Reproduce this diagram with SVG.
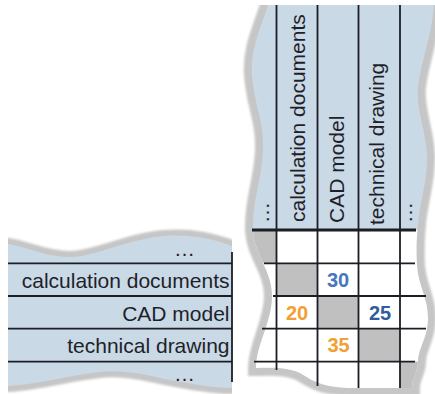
<svg xmlns="http://www.w3.org/2000/svg" width="435" height="394" viewBox="0 0 435 394">
  <defs>
    <style>
      .lbl { font-family: "Liberation Sans", Arial, sans-serif; font-size: 21px; fill: #1f1f2a; }
      .num { font-family: "Liberation Sans", Arial, sans-serif; font-size: 20px; font-weight: bold; text-anchor: middle; }
      .blue { fill: #4676bd; }
      .dblue { fill: #2f5d9c; }
      .orange { fill: #f2a034; }
      .ln { stroke: #1d1d25; stroke-width: 1.8; fill: none; }
      .thick { stroke: #1d1d25; stroke-width: 3; fill: none; }
      .hdr { fill: #c9d9e6; }
      .cellgray { fill: #c0c0c0; }
      .shadow { fill: none; stroke: #c6c6c6; filter: url(#soft); }
    </style>
    <filter id="soft" x="-10%" y="-10%" width="120%" height="120%">
      <feGaussianBlur stdDeviation="1"/>
    </filter>
    <!-- torn outline of the column header + matrix body -->
    <path id="bodyShape" d="M 268,5 C 260,30 250,50 252,75 C 254,105 264,120 263,150 C 262,180 252,200 253,230 C 254,255 272,270 272,296 C 272,322 256,345 256,368 C 270,368 290,366 305,376 C 320,386 335,388 355,388 L 412,388 C 412,378 418,372 418,362 C 418,348 428,338 428,318 C 428,298 418,285 417,265 C 416,245 417,235 418,225 C 419,205 428,180 427,155 C 426,130 416,110 418,88 C 420,65 432,35 434,5 Z"/>
    <!-- torn outline of the row header block -->
    <path id="rowShape" d="M 8,244 C 25,246 45,257 70,257 C 95,257 130,238 165,236 C 195,234 215,240 232,246 L 232,388 C 215,388 190,384 160,378 C 140,373 115,370 100,372 C 70,375 40,384 8,386 Z"/>
    <clipPath id="bodyClip"><use href="#bodyShape"/></clipPath>
    <clipPath id="rowBand"><rect x="8" y="0" width="224" height="394"/></clipPath>
  </defs>

  <rect width="435" height="394" fill="#ffffff"/>

  <!-- row header block -->
  <g id="row-header">
    <g clip-path="url(#rowBand)">
      <use href="#rowShape" class="shadow" stroke-width="12"/>
    </g>
    <use href="#rowShape" class="hdr"/>
    <line class="ln" x1="8" y1="263.3" x2="232" y2="263.3"/>
    <line class="ln" x1="8" y1="296" x2="232" y2="296"/>
    <line class="ln" x1="8" y1="328.7" x2="232" y2="328.7"/>
    <line class="ln" x1="8" y1="361.7" x2="232" y2="361.7"/>
    <line class="ln" x1="232" y1="252" x2="232" y2="382" stroke-width="2"/>
    <text class="lbl" x="174" y="256" font-size="22">…</text>
    <text class="lbl" x="229.5" y="287.5" text-anchor="end">calculation documents</text>
    <text class="lbl" x="229.5" y="320.5" text-anchor="end">CAD model</text>
    <text class="lbl" x="229.5" y="353" text-anchor="end">technical drawing</text>
    <text class="lbl" x="174" y="381" font-size="22">…</text>
  </g>

  <!-- column header and matrix body -->
  <g id="matrix-body">
    <use href="#bodyShape" class="shadow" stroke-width="16"/>
    <rect x="0" y="0" width="435" height="5" fill="#ffffff"/>
    <g clip-path="url(#bodyClip)">
      <rect x="240" y="0" width="200" height="230" class="hdr"/>
      <rect x="240" y="230" width="200" height="170" fill="#ffffff"/>
      <rect class="cellgray" x="240" y="230" width="36.5" height="33.3"/>
      <rect class="cellgray" x="276.5" y="263.3" width="41" height="32.7"/>
      <rect class="cellgray" x="317.5" y="296" width="41" height="32.7"/>
      <rect class="cellgray" x="358.5" y="328.7" width="41.5" height="33"/>
      <rect class="cellgray" x="400" y="361.7" width="35" height="40"/>
    </g>
  </g>

  <g id="grid-lines">
    <line class="ln" x1="276.5" y1="5" x2="276.5" y2="370"/>
    <line class="ln" x1="317.5" y1="5" x2="317.5" y2="386"/>
    <line class="ln" x1="358.5" y1="5" x2="358.5" y2="388"/>
    <line class="ln" x1="400" y1="5" x2="400" y2="388"/>
    <line class="thick" x1="252" y1="230" x2="416" y2="230"/>
    <line class="ln" x1="264" y1="263.3" x2="415" y2="263.3"/>
    <line class="ln" x1="273" y1="296" x2="426" y2="296"/>
    <line class="ln" x1="262" y1="328.7" x2="426" y2="328.7"/>
    <line class="ln" x1="254" y1="361.7" x2="415" y2="361.7"/>
  </g>

  <g id="column-labels">
    <text class="lbl" font-size="22" transform="translate(269,223) rotate(-90)">…</text>
    <text class="lbl" transform="translate(305,222) rotate(-90)">calculation documents</text>
    <text class="lbl" transform="translate(344,223) rotate(-90)">CAD model</text>
    <text class="lbl" transform="translate(383.5,225) rotate(-90)">technical drawing</text>
    <text class="lbl" font-size="22" transform="translate(411.5,223) rotate(-90)">…</text>
  </g>

  <g id="values">
    <text class="num blue" x="338" y="287">30</text>
    <text class="num orange" x="297" y="319.5">20</text>
    <text class="num dblue" x="380" y="319.5">25</text>
    <text class="num orange" x="338.5" y="352">35</text>
  </g>
</svg>
